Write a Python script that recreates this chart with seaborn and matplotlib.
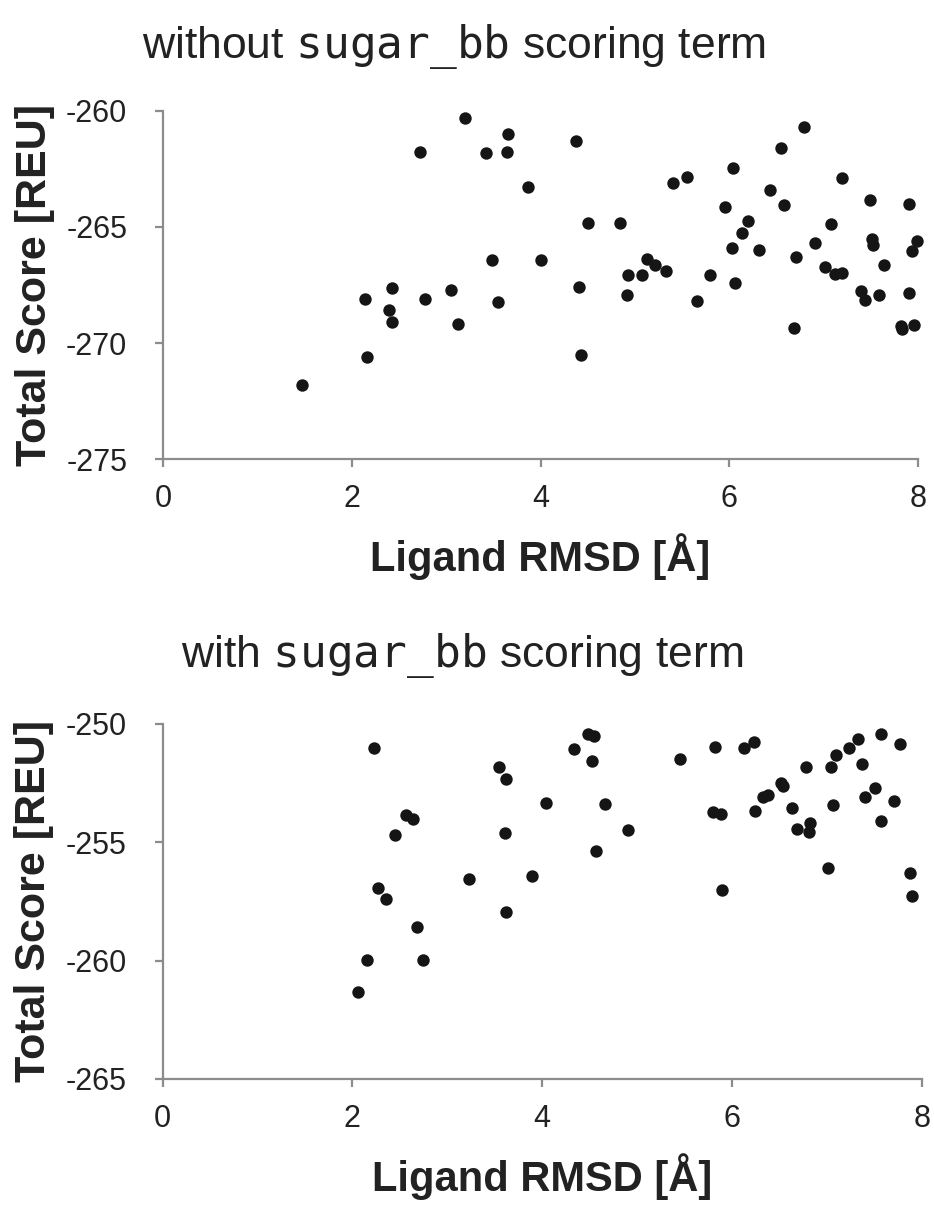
import matplotlib
matplotlib.use('Agg')
import matplotlib.pyplot as plt
import seaborn as sns
import pandas as pd

sns.set_style('white')
plt.rcParams['font.family'] = ['Liberation Sans', 'DejaVu Sans']
plt.rcParams['mathtext.fontset'] = 'dejavusans'
plt.rcParams['axes.unicode_minus'] = False

# without sugar_bb term
rmsd_without = [3.20, 3.65, 2.72, 3.42, 3.64, 3.87, 3.48, 4.00, 2.43, 2.14, 2.77, 3.05,
                2.39, 2.42, 3.12, 3.55, 2.16, 1.47,
                4.38, 4.50, 4.84, 4.41, 4.43, 5.40, 5.55, 5.13, 5.21, 4.93, 5.07, 4.92,
                5.33, 5.80, 5.66, 6.04, 5.95, 6.20, 6.13, 6.03, 6.06, 6.32, 6.79, 6.55,
                6.43, 6.58, 6.71, 6.69, 6.91, 7.20, 7.08, 7.02, 7.12, 7.20, 7.49, 7.51,
                7.52, 7.64, 7.40, 7.44, 7.59, 7.91, 7.99, 7.94, 7.91, 7.82, 7.83, 7.96]
score_without = [-260.30, -261.00, -261.77, -261.80, -261.77, -263.27, -266.43, -266.43,
                 -267.62, -268.11, -268.11, -267.71, -268.58, -269.11, -269.20, -268.24,
                 -270.60, -271.80,
                 -261.30, -264.85, -264.85, -267.58, -270.52, -263.09, -262.83, -266.39,
                 -266.65, -267.08, -267.08, -267.91, -266.90, -267.08, -268.18, -262.47,
                 -264.13, -264.75, -265.24, -265.90, -267.43, -266.00, -260.70, -261.62,
                 -263.43, -264.05, -266.29, -269.37, -265.71, -262.91, -264.88, -266.73,
                 -267.02, -266.99, -263.82, -265.53, -265.76, -266.65, -267.76, -268.15,
                 -267.92, -264.00, -265.60, -266.04, -267.84, -269.25, -269.38, -269.21]

# with sugar_bb term
rmsd_with = [2.23, 3.55, 3.62, 4.04, 2.57, 2.64, 2.45, 3.61, 3.23, 3.89, 2.27, 2.35,
             3.62, 2.68, 2.15, 2.74, 2.06,
             4.34, 4.48, 4.55, 4.52, 4.66, 4.90, 4.57, 5.45, 5.82, 6.13, 6.23, 5.80,
             5.88, 5.89, 6.24, 6.33, 6.38, 6.52, 6.54, 6.63, 6.68, 6.82, 6.81, 6.78,
             7.01, 7.06, 7.04, 7.10, 7.23, 7.33, 7.37, 7.40, 7.51, 7.57, 7.57, 7.77,
             7.71, 7.88, 7.90]
score_with = [-251.03, -251.80, -252.32, -253.32, -253.83, -254.00, -254.69, -254.62,
              -256.55, -256.42, -256.94, -257.41, -257.96, -258.58, -259.97, -259.97,
              -261.34,
              -251.07, -250.42, -250.51, -251.55, -253.39, -254.48, -255.35, -251.46,
              -250.97, -251.03, -250.76, -253.73, -253.80, -257.03, -253.66, -253.07,
              -253.00, -252.48, -252.62, -253.56, -254.42, -254.17, -254.56, -251.80,
              -256.08, -253.44, -251.80, -251.33, -251.03, -250.63, -251.68, -253.10,
              -252.70, -254.10, -250.41, -250.85, -253.27, -256.30, -257.25]

x_ticks = [0, 2, 4, 6, 8]
titles = [r'without $\mathtt{sugar\_bb}$ scoring term',
          r'with $\mathtt{sugar\_bb}$ scoring term']
ylims = [(-275, -260), (-265, -250)]

df_without = pd.DataFrame({'rmsd': rmsd_without, 'score': score_without})
df_with = pd.DataFrame({'rmsd': rmsd_with, 'score': score_with})

fig, axes = plt.subplots(2, 1, figsize=(9.34, 12.05), dpi=100)
axes[0].set_position([0.1748, 0.619, 0.808, 0.289])
axes[1].set_position([0.174, 0.1046, 0.813, 0.2946])

spine_col = '#8c8c8c'
title_x = [0.385, 0.395]
title_pad = [38, 41]
for ax, df, title, ylim, tx, tp in zip(axes, [df_without, df_with], titles, ylims,
                                       title_x, title_pad):
    sns.scatterplot(data=df, x='rmsd', y='score', ax=ax, color='#151515',
                    s=80, linewidth=0, clip_on=False)
    ax.set_xlim(0, 8)
    ax.set_ylim(*ylim)
    ax.set_xticks(x_ticks)
    ax.set_yticks(range(ylim[0], ylim[1] + 1, 5))
    for side in ['top', 'right']:
        ax.spines[side].set_visible(False)
    for side in ['left', 'bottom']:
        ax.spines[side].set_color(spine_col)
        ax.spines[side].set_linewidth(1.6)
    ax.tick_params(axis='both', which='major', direction='out', length=6, width=1.6,
                   color=spine_col, labelsize=22, labelcolor='#222222')
    ax.tick_params(axis='x', pad=12, bottom=True)
    ax.tick_params(axis='y', pad=20, left=True)
    ax.set_xlabel('Ligand RMSD [Å]', fontsize=30, fontweight='bold', labelpad=14,
                  color='#222222')
    ax.set_ylabel('Total Score [REU]', fontsize=31, fontweight='bold', labelpad=8,
                  color='#222222')
    ax.set_title(title, fontsize=32, pad=tp, x=tx, color='#222222')

plt.savefig('out.png', dpi=100)
